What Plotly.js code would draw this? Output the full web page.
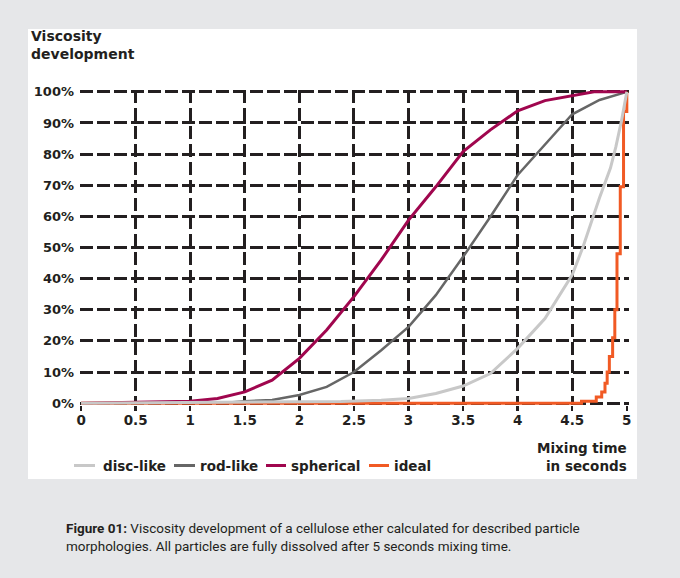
<!DOCTYPE html>
<html>
<head>
<meta charset="utf-8">
<script src="https://cdn.plot.ly/plotly-3.0.1.min.js"></script>
<style>
  html, body { margin: 0; padding: 0; background: #e6e7e9; }
  #chart { width: 680px; height: 578px; }
</style>
</head>
<body>
<div id="chart"></div>
<script>
// ---- Data ----
const seriesNames = ["disc-like", "rod-like", "spherical", "ideal"];
const seriesColors = ["#c8c8c8", "#666666", "#a0064e", "#f15a24"];

const discTime  = [0, 2.38, 2.75, 3.0, 3.25, 3.5, 3.75, 4.0, 4.25, 4.5, 4.6, 4.75, 4.85, 4.9, 4.95, 5.0];
const discValue = [0, 0.5, 0.9, 1.5, 3.1, 5.5, 9.5, 17.6, 27.2, 41.2, 50.3, 66, 75.5, 82.4, 90.5, 100];

const rodTime  = [0, 1.36, 1.5, 1.75, 2.0, 2.25, 2.5, 2.75, 3.0, 3.25, 3.5, 3.75, 4.0, 4.25, 4.5, 4.75, 4.95, 5.0];
const rodValue = [0, 0.2, 0.6, 1.0, 2.6, 5.2, 10, 17, 24.5, 34.7, 47, 59.9, 73.3, 83, 92.8, 97.4, 99.6, 100];

const sphTime  = [0, 0.95, 1.0, 1.25, 1.5, 1.75, 2.0, 2.25, 2.5, 2.75, 3.0, 3.25, 3.5, 3.75, 4.0, 4.25, 4.5, 4.7, 5.0];
const sphValue = [0, 0.5, 0.6, 1.5, 3.6, 7.4, 14.4, 23.5, 34.2, 46, 58.8, 69.5, 80.8, 87.8, 93.9, 97.2, 98.8, 100, 100];

const idealTime  = [0, 4.585, 4.72, 4.77, 4.80, 4.82, 4.84, 4.87, 4.89, 4.91, 4.94, 4.97, 5.0];
const idealValue = [0, 0.6, 2, 3.6, 6.4, 10, 15, 21, 30, 48, 69.5, 93.7, 100];

const xTickVals   = [0, 0.5, 1, 1.5, 2, 2.5, 3, 3.5, 4, 4.5, 5];
const xTickText   = ["0", "0.5", "1", "1.5", "2", "2.5", "3", "3.5", "4", "4.5", "5"];
const xGridVals   = [0.5, 1, 1.5, 2, 2.5, 3, 3.5, 4, 4.5];
const yTickVals   = [0, 10, 20, 30, 40, 50, 60, 70, 80, 90, 100];
const yTickText   = ["0%", "10%", "20%", "30%", "40%", "50%", "60%", "70%", "80%", "90%", "100%"];

const titleText   = "Viscosity<br>development";
const xTitleText  = "Mixing time<br>in seconds";
const captionText = "<b>Figure 01:</b> Viscosity development of a cellulose ether calculated for described particle<br>morphologies. All particles are fully dissolved after 5 seconds mixing time.";

// ---- Styling ----
const ink = "#231f20";
const boldFont = { family: "DejaVu Sans, Verdana, sans-serif", weight: 700, color: ink };
const xRange = [-0.01, 5.02];
const yRange = [-0.6, 100.6];

// plot area in pixels (for paper-coordinate helpers)
const M = { l: 80, r: 51, t: 90, b: 173 };
const PW = 680 - M.l - M.r, PH = 578 - M.t - M.b;
const px = v => (v - M.l) / PW;
const py = v => (578 - M.b - v) / PH;

const xs = [discTime, rodTime, sphTime, idealTime];
const ys = [discValue, rodValue, sphValue, idealValue];
const widths = [3, 2.5, 3, 3];
const shapesLine = ["linear", "linear", "linear", "hv"];
// first series lives on the labelled overlay axis (same range), the rest on the gridded axis
const xAxisOf = ["x2", "x", "x", "x"];

const traces = seriesNames.map((n, i) => ({
  type: "scatter", mode: "lines", name: n,
  x: xs[i], y: ys[i], xaxis: xAxisOf[i], yaxis: "y",
  line: { color: seriesColors[i], width: widths[i], shape: shapesLine[i] },
  showlegend: false, hoverinfo: "skip"
}));

// custom legend (line swatches + labels)
const legendLineX = [[74, 95], [174, 195], [266, 286], [369, 389]];
const legendTextX = [101, 198, 289, 392];
const legendY = 465.5;

const shapes = [
  { type: "rect", xref: "paper", yref: "paper", layer: "below",
    x0: px(28), x1: px(637), y0: py(479), y1: py(29),
    fillcolor: "#ffffff", line: { width: 0 } }
];
seriesNames.forEach((n, i) => {
  shapes.push({ type: "line", xref: "paper", yref: "paper",
    x0: px(legendLineX[i][0]), x1: px(legendLineX[i][1]), y0: py(legendY), y1: py(legendY),
    line: { color: seriesColors[i], width: 3 } });
});

const annotations = [
  { text: titleText, xref: "paper", yref: "paper", x: px(29), y: py(26),
    xanchor: "left", yanchor: "top", align: "left", showarrow: false,
    font: Object.assign({ size: 14 }, boldFont) },
  { text: xTitleText, xref: "paper", yref: "paper", x: px(629), y: py(438),
    xanchor: "right", yanchor: "top", align: "right", showarrow: false,
    font: Object.assign({ size: 13.5 }, boldFont) },
  { text: captionText, xref: "paper", yref: "paper", x: px(64), y: py(536.5),
    xanchor: "left", yanchor: "middle", align: "left", showarrow: false,
    font: { family: "Roboto, sans-serif", size: 13.5, color: ink } }
];
seriesNames.forEach((n, i) => {
  annotations.push({ text: n, xref: "paper", yref: "paper",
    x: px(legendTextX[i]), y: py(legendY), xanchor: "left", yanchor: "middle",
    showarrow: false, font: Object.assign({ size: 13.5 }, boldFont) });
});

const layout = {
  width: 680, height: 578,
  margin: M,
  paper_bgcolor: "#e6e7e9",
  plot_bgcolor: "rgba(0,0,0,0)",
  showlegend: false,
  xaxis: {
    range: xRange, tickmode: "array", tickvals: xGridVals,
    showticklabels: false, ticks: "",
    showgrid: true, gridcolor: ink, gridwidth: 3, griddash: "13px,5px",
    zeroline: false, showline: false
  },
  xaxis2: {
    overlaying: "x", anchor: "y", side: "bottom", range: xRange,
    tickmode: "array", tickvals: xTickVals, ticktext: xTickText,
    showgrid: false, zeroline: false, showline: false,
    ticks: "outside", ticklen: 5, tickwidth: 2.5, tickcolor: ink,
    tickfont: Object.assign({ size: 13.5 }, boldFont), ticklabelstandoff: -2
  },
  yaxis: {
    range: yRange, tickmode: "array", tickvals: yTickVals, ticktext: yTickText,
    showgrid: true, gridcolor: ink, gridwidth: 3, griddash: "13px,4px",
    zeroline: false, showline: false, ticks: "",
    tickfont: Object.assign({ size: 13 }, boldFont), ticklabelstandoff: 5
  },
  shapes: shapes,
  annotations: annotations
};

Plotly.newPlot("chart", traces, layout, { displayModeBar: false, staticPlot: true });
</script>
</body>
</html>
